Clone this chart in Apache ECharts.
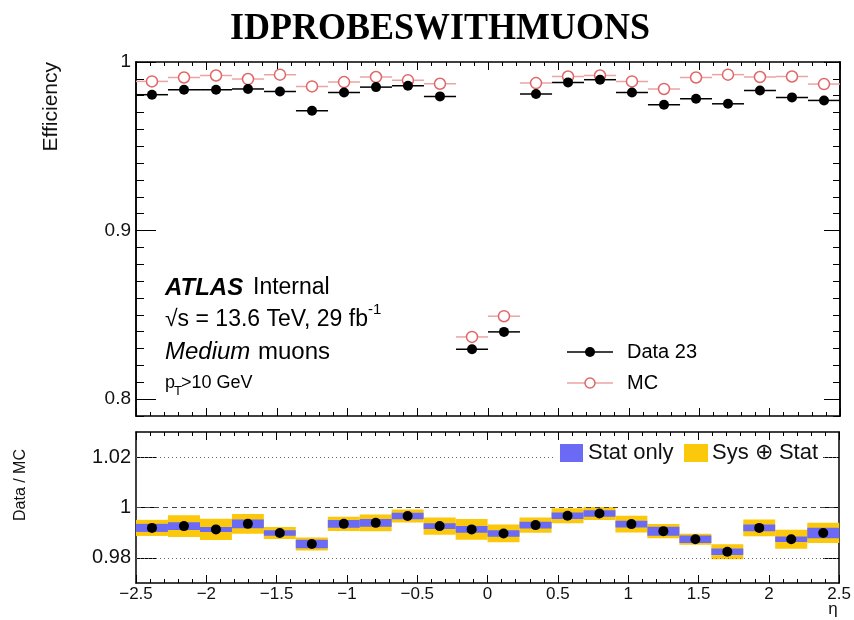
<!DOCTYPE html>
<html>
<head>
<meta charset="utf-8">
<script src="https://cdn.jsdelivr.net/npm/echarts@6/dist/echarts.min.js"></script>
<style>html,body{margin:0;padding:0;background:#fff;}#c{width:854px;height:620px;}</style>
</head>
<body>
<div id="c"></div>
<script>
// ---- data ----
var binEdges = [-2.5, -2.273, -2.045, -1.818, -1.591, -1.364, -1.136, -0.909, -0.682, -0.455, -0.227, 0,
                0.227, 0.455, 0.682, 0.909, 1.136, 1.364, 1.591, 1.818, 2.045, 2.273, 2.5];
var dataEff = [0.9806, 0.9835, 0.9835, 0.9840, 0.9825, 0.9711, 0.9819, 0.9851, 0.9859, 0.9796, 0.8296,
               0.8399, 0.9810, 0.9879, 0.9895, 0.9819, 0.9746, 0.9782, 0.9752, 0.9831, 0.9790, 0.9772];
var mcEff = [0.9885, 0.9908, 0.9920, 0.9899, 0.9925, 0.9855, 0.9881, 0.9911, 0.9891, 0.9871, 0.8369,
             0.8492, 0.9875, 0.9914, 0.9920, 0.9885, 0.9840, 0.9908, 0.9925, 0.9911, 0.9914, 0.9869];
var ratio = [0.9919, 0.9926, 0.9913, 0.9935, 0.9899, 0.9855, 0.9935, 0.9939, 0.9966, 0.9926, 0.9913,
             0.9897, 0.9930, 0.9967, 0.9976, 0.9934, 0.9906, 0.9874, 0.9824, 0.9919, 0.9874, 0.9899];
var statErr = [0.0016, 0.0015, 0.0010, 0.0017, 0.0011, 0.0017, 0.0015, 0.0015, 0.0013, 0.0011, 0.0013,
               0.0013, 0.0013, 0.0013, 0.0013, 0.0013, 0.0018, 0.0015, 0.0013, 0.0013, 0.0011, 0.0021];
var totErr = [0.0032, 0.0043, 0.0042, 0.0039, 0.0024, 0.0026, 0.0028, 0.0033, 0.0026, 0.0034, 0.0041,
              0.0035, 0.0030, 0.0030, 0.0026, 0.0033, 0.0028, 0.0022, 0.0030, 0.0033, 0.0038, 0.0040];
var effTicks = [0.8, 0.9, 1.0];
var ratioTicks = [0.98, 1.0, 1.02];
var etaRange = [-2.5, 2.5];
var effRange = [0.79, 1.0];
var ratioRange = [0.97, 1.03];

// ---- derived helpers ----
function centers() { var c = []; for (var i = 0; i < binEdges.length - 1; i++) c.push((binEdges[i] + binEdges[i + 1]) / 2); return c; }
var binC = centers();
function pts(vals) { return vals.map(function (v, i) { return [binC[i], v]; }); }
function hbars(vals) { return vals.map(function (v, i) { return [binEdges[i], binEdges[i + 1], v]; }); }
function bands(vals, errs) { return vals.map(function (v, i) { return [binEdges[i], binEdges[i + 1], v, errs[i]]; }); }
var effMinor = []; for (var k = 79; k <= 100; k++) effMinor.push(k / 100);

var FONT = 'Liberation Sans, Arial, sans-serif';
var chart = echarts.init(document.getElementById('c'), null, { renderer: 'canvas' });

function hbarRender(color) {
  return function (params, api) {
    var a = api.coord([api.value(0), api.value(2)]);
    var b = api.coord([api.value(1), api.value(2)]);
    return { type: 'line', shape: { x1: a[0], y1: a[1], x2: b[0], y2: b[1] }, style: { stroke: color, lineWidth: 1.5 } };
  };
}
function bandRender(color) {
  return function (params, api) {
    var v = api.value(2), e = api.value(3);
    var a = api.coord([api.value(0), v + e]);
    var b = api.coord([api.value(1), v - e]);
    return { type: 'rect', shape: { x: a[0], y: a[1], width: b[0] - a[0], height: b[1] - a[1] }, style: { fill: color } };
  };
}

function xAx(grid, pos, labels) {
  return {
    type: 'value', gridIndex: grid, position: pos, min: etaRange[0], max: etaRange[1], interval: 0.5,
    axisLine: { show: true, onZero: false, lineStyle: { color: '#000', width: 1.5 } },
    axisTick: { show: true, inside: true, length: 8, lineStyle: { color: '#000', width: 1 } },
    minorTick: { show: true, splitNumber: 5, length: 4, lineStyle: { color: '#000', width: 1 } },
    splitLine: { show: false }, minorSplitLine: { show: false },
    axisLabel: labels ? {
      show: true, fontFamily: FONT, fontSize: 17, color: '#111', margin: 3,
      formatter: function (v) { return v < 0 ? '\u2212' + Math.abs(v) : String(v); }
    } : { show: false }
  };
}
function yAx(grid, pos, range, ticks, len, labels, fs) {
  return {
    type: 'value', gridIndex: grid, position: pos, min: range[0], max: range[1],
    axisLine: { show: true, onZero: false, lineStyle: { color: '#000', width: 1.5 } },
    axisTick: { show: true, inside: true, length: len, customValues: ticks, lineStyle: { color: '#000', width: 1 } },
    splitLine: { show: false },
    axisLabel: labels ? {
      show: true, customValues: ticks, fontFamily: FONT, fontSize: fs, color: '#111', margin: 5,
      formatter: function (v) { return String(Math.round(v * 100) / 100); }
    } : { show: false }
  };
}

var option = {
  animation: false,
  backgroundColor: '#fff',
  grid: [
    { left: 136, top: 62, width: 704, height: 354 },
    { left: 136, top: 432, width: 704, height: 151 }
  ],
  xAxis: [xAx(0, 'bottom', false), xAx(0, 'top', false), xAx(1, 'bottom', true), xAx(1, 'top', false)],
  yAxis: [
    yAx(0, 'left', effRange, effTicks, 20, true, 19),
    yAx(0, 'left', effRange, effMinor, 8, false),
    yAx(0, 'right', effRange, effTicks, 16, false),
    yAx(0, 'right', effRange, effMinor, 7, false),
    yAx(1, 'left', ratioRange, ratioTicks, 20, true, 20),
    yAx(1, 'right', ratioRange, ratioTicks, 16, false)
  ],
  series: [
    { type: 'custom', name: 'MC bars', xAxisIndex: 0, yAxisIndex: 0, z: 2, renderItem: hbarRender('#eda3a3'), data: hbars(mcEff) },
    { type: 'custom', name: 'Data bars', xAxisIndex: 0, yAxisIndex: 0, z: 2, renderItem: hbarRender('#000'), data: hbars(dataEff) },
    { type: 'scatter', name: 'MC', xAxisIndex: 0, yAxisIndex: 0, z: 4, symbol: 'circle', symbolSize: 11,
      itemStyle: { color: '#fff', borderColor: '#e06767', borderWidth: 1.5, opacity: 1 }, data: pts(mcEff) },
    { type: 'scatter', name: 'Data 23', xAxisIndex: 0, yAxisIndex: 0, z: 5, symbol: 'circle', symbolSize: 10,
      itemStyle: { color: '#000', opacity: 1 }, data: pts(dataEff) },
    { type: 'line', name: 'ref', xAxisIndex: 2, yAxisIndex: 4, z: 1, data: [], symbol: 'none',
      markLine: { silent: true, symbol: 'none', label: { show: false }, animation: false,
        data: [
          { yAxis: ratioTicks[2], lineStyle: { type: [1, 3], color: '#666', width: 1.2 } },
          { yAxis: ratioTicks[1], lineStyle: { type: [5, 4], color: '#444', width: 1.2 } },
          { yAxis: ratioTicks[0], lineStyle: { type: [1, 3], color: '#666', width: 1.2 } }
        ] } },
    { type: 'custom', name: 'Sys ⊕ Stat', xAxisIndex: 2, yAxisIndex: 4, z: 2, renderItem: bandRender('#fcc80b'), data: bands(ratio, totErr) },
    { type: 'custom', name: 'Stat only', xAxisIndex: 2, yAxisIndex: 4, z: 3, renderItem: bandRender('#6a6af5'), data: bands(ratio, statErr) },
    { type: 'scatter', name: 'Ratio', xAxisIndex: 2, yAxisIndex: 4, z: 5, symbol: 'circle', symbolSize: 10,
      itemStyle: { color: '#000', opacity: 1 }, data: pts(ratio) }
  ],
  graphic: [
    { type: 'text', x: 440, y: 31, scaleY: 1.08, originY: 31, originX: 440, style: { text: 'IDPROBESWITHMUONS', font: 'bold 36px "Liberation Serif", serif', fill: '#000', textAlign: 'center', textVerticalAlign: 'middle' } },
    { type: 'text', x: 51, y: 62, rotation: Math.PI / 2, style: { text: 'Efficiency', font: '21px ' + FONT, fill: '#111', textAlign: 'right', textVerticalAlign: 'middle' } },
    { type: 'text', x: 21, y: 485, rotation: Math.PI / 2, style: { text: 'Data / MC', font: '16px ' + FONT, fill: '#111', textAlign: 'center', textVerticalAlign: 'middle' } },
    { type: 'text', x: 833, y: 609, style: { text: 'η', font: '17px ' + FONT, fill: '#111', textAlign: 'center', textVerticalAlign: 'middle' } },
    // ATLAS block
    { type: 'text', x: 165, y: 288, style: { text: 'ATLAS', font: 'italic bold 24px ' + FONT, fill: '#000', textVerticalAlign: 'middle' } },
    { type: 'text', x: 253, y: 288, style: { text: 'Internal', font: '23px ' + FONT, fill: '#000', textVerticalAlign: 'middle' } },
    { type: 'text', x: 165, y: 320, style: { text: '√s = 13.6 TeV, 29 fb', font: '23px ' + FONT, fill: '#000', textVerticalAlign: 'middle' } },
    { type: 'text', x: 368, y: 310, style: { text: '-1', font: '15px ' + FONT, fill: '#000', textVerticalAlign: 'middle' } },
    { type: 'text', x: 165, y: 352, style: { text: 'Medium', font: 'italic 24px ' + FONT, fill: '#000', textVerticalAlign: 'middle' } },
    { type: 'text', x: 258, y: 352, style: { text: 'muons', font: '24px ' + FONT, fill: '#000', textVerticalAlign: 'middle' } },
    { type: 'text', x: 165, y: 383, style: { text: 'p', font: '18px ' + FONT, fill: '#000', textVerticalAlign: 'middle' } },
    { type: 'text', x: 174, y: 391, style: { text: 'T', font: '13px ' + FONT, fill: '#000', textVerticalAlign: 'middle' } },
    { type: 'text', x: 181, y: 383, style: { text: '>10 GeV', font: '18px ' + FONT, fill: '#000', textVerticalAlign: 'middle' } },
    // top legend
    { type: 'line', z: 10, shape: { x1: 567, y1: 352, x2: 613, y2: 352 }, style: { stroke: '#000', lineWidth: 1.5 } },
    { type: 'circle', z: 11, shape: { cx: 590, cy: 352, r: 5 }, style: { fill: '#000' } },
    { type: 'text', x: 627, y: 352, style: { text: 'Data 23', font: '20px ' + FONT, fill: '#000', textVerticalAlign: 'middle' } },
    { type: 'line', z: 10, shape: { x1: 567, y1: 383, x2: 613, y2: 383 }, style: { stroke: '#eda3a3', lineWidth: 1.5 } },
    { type: 'circle', z: 11, shape: { cx: 590, cy: 383, r: 5 }, style: { fill: '#fff', stroke: '#e06767', lineWidth: 1.5 } },
    { type: 'text', x: 627, y: 383, style: { text: 'MC', font: '20px ' + FONT, fill: '#000', textVerticalAlign: 'middle' } },
    // bottom legend
    { type: 'rect', z: 20, shape: { x: 555, y: 441, width: 268, height: 26 }, style: { fill: '#fff' } },
    { type: 'rect', z: 21, shape: { x: 560, y: 444, width: 23, height: 18 }, style: { fill: '#6a6af5' } },
    { type: 'text', z: 21, x: 588, y: 453, style: { text: 'Stat only', font: '22px ' + FONT, fill: '#111', textVerticalAlign: 'middle' } },
    { type: 'rect', z: 21, shape: { x: 684, y: 444, width: 24, height: 18 }, style: { fill: '#fcc80b' } },
    { type: 'text', z: 21, x: 712, y: 453, style: { text: 'Sys ⊕ Stat', font: '22px ' + FONT, fill: '#111', textVerticalAlign: 'middle' } }
  ]
};
chart.setOption(option);
</script>
</body>
</html>
